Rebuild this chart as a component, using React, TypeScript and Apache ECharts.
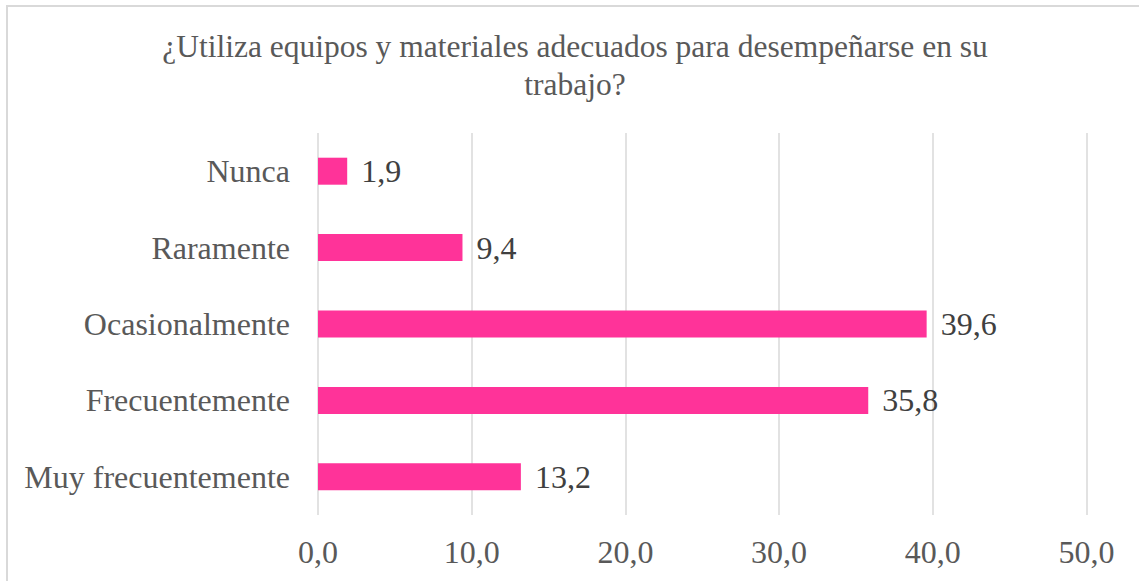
import React, { useEffect, useRef } from "react";
import * as echarts from "echarts";

const categories = ["Nunca", "Raramente", "Ocasionalmente", "Frecuentemente", "Muy frecuentemente"];
const values = [1.9, 9.4, 39.6, 35.8, 13.2];
const titleText = "¿Utiliza equipos y materiales adecuados para desempeñarse en su\ntrabajo?";

const FONT = '"Liberation Serif", "Times New Roman", serif';
const fmt = (v: number) => v.toFixed(1).replace(".", ",");

export default function App() {
  const ref = useRef<HTMLDivElement>(null);
  useEffect(() => {
    if (!ref.current) return;
    const chart = echarts.init(ref.current, undefined, { renderer: "svg" });
    chart.setOption({
      animation: false,
      backgroundColor: "#ffffff",
      textStyle: { fontFamily: FONT },
      graphic: [
        {
          type: "rect",
          shape: { x: 7, y: 6, width: 1200, height: 700 },
          style: { fill: "none", stroke: "#d9d9d9", lineWidth: 2 },
          silent: true,
        },
        {
          type: "text",
          x: 575,
          y: 65,
          style: {
            text: titleText,
            align: "center",
            verticalAlign: "middle",
            fontFamily: FONT,
            fontSize: 31.5,
            lineHeight: 38,
            fill: "#595959",
          },
        },
      ],
      grid: { left: 318, right: 52.5, top: 133, bottom: 66, containLabel: false },
      xAxis: {
        type: "value",
        min: 0,
        max: 50,
        interval: 10,
        axisLine: { show: false },
        axisTick: { show: false },
        splitLine: { show: true, lineStyle: { color: "#d9d9d9", width: 1.5 } },
        axisLabel: {
          formatter: (v: number) => fmt(v),
          color: "#595959",
          fontFamily: FONT,
          fontSize: 32,
          margin: 21,
        },
      },
      yAxis: {
        type: "category",
        data: categories,
        inverse: true,
        axisLine: { show: false },
        axisTick: { show: false },
        splitLine: { show: false },
        axisLabel: {
          color: "#595959",
          fontFamily: FONT,
          fontSize: 32,
          margin: 28,
        },
      },
      series: [
        {
          type: "bar",
          data: values,
          barWidth: 27,
          itemStyle: { color: "#ff3399" },
          label: {
            show: true,
            position: "right",
            distance: 14,
            formatter: (p: any) => fmt(p.value),
            color: "#404040",
            fontFamily: FONT,
            fontSize: 32,
          },
        },
      ],
    });
    return () => chart.dispose();
  }, []);
  return (
    <div
      ref={ref}
      style={{ position: "absolute", left: 0, top: 0, width: 1139, height: 581 }}
    />
  );
}
